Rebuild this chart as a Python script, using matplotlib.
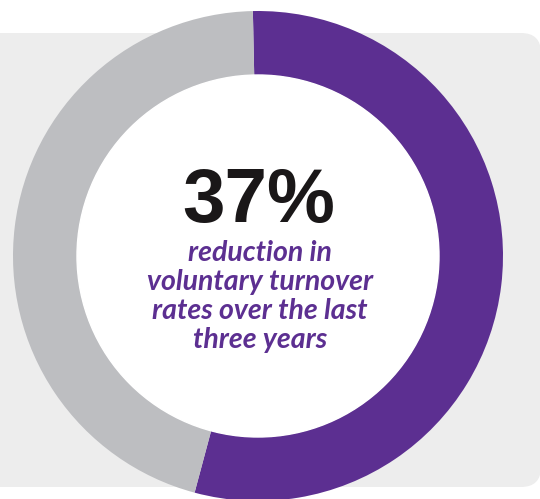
import matplotlib.pyplot as plt
from matplotlib.patches import FancyBboxPatch

# donut shares (purple, grey)
SHARES = [54.5, 45.5]
COLORS = ["#5C2F91", "#BDBEC1"]
HEADLINE = "37%"
LINES = ["reduction in", "voluntary turnover", "rates over the last", "three years"]

W, H = 540, 499
PURPLE = "#5C2F91"
PANEL = "#EDEDED"


def main():
    fig = plt.figure(figsize=(W / 100, H / 100), dpi=100)
    ax = fig.add_axes([0, 0, 1, 1])

    # light grey panel behind the ring
    panel = FancyBboxPatch(
        (-40, H - 487), W + 40 + 1, 487 - 33,
        boxstyle="round,pad=0,rounding_size=20",
        facecolor=PANEL, edgecolor="none", zorder=0,
    )
    ax.add_patch(panel)

    ax.pie(
        SHARES,
        colors=COLORS,
        startangle=91.2,
        counterclock=False,
        center=(258, H - 256),
        radius=245,
        wedgeprops=dict(width=64, edgecolor="none", linewidth=0),
        frame=True,
    )
    # white hole
    ax.add_patch(plt.Circle((258, H - 256), 181, color="white", zorder=1))

    ax.text(259, H - 222, HEADLINE, ha="center", va="baseline",
            fontsize=55, fontweight="bold", family="Liberation Sans",
            color="#1A1718", zorder=3)

    baselines = [261, 290, 319, 348]
    for line, yb in zip(LINES, baselines):
        ax.text(260, H - yb, line, ha="center", va="baseline",
                fontsize=20.5, fontweight="bold", fontstyle="italic",
                family="Lato", color=PURPLE, zorder=3)

    ax.set_xlim(0, W)
    ax.set_ylim(0, H)
    ax.set_aspect("auto")
    ax.axis("off")
    fig.savefig("out.png", dpi=100, facecolor="white")
    plt.close(fig)


if __name__ == "__main__":
    main()
